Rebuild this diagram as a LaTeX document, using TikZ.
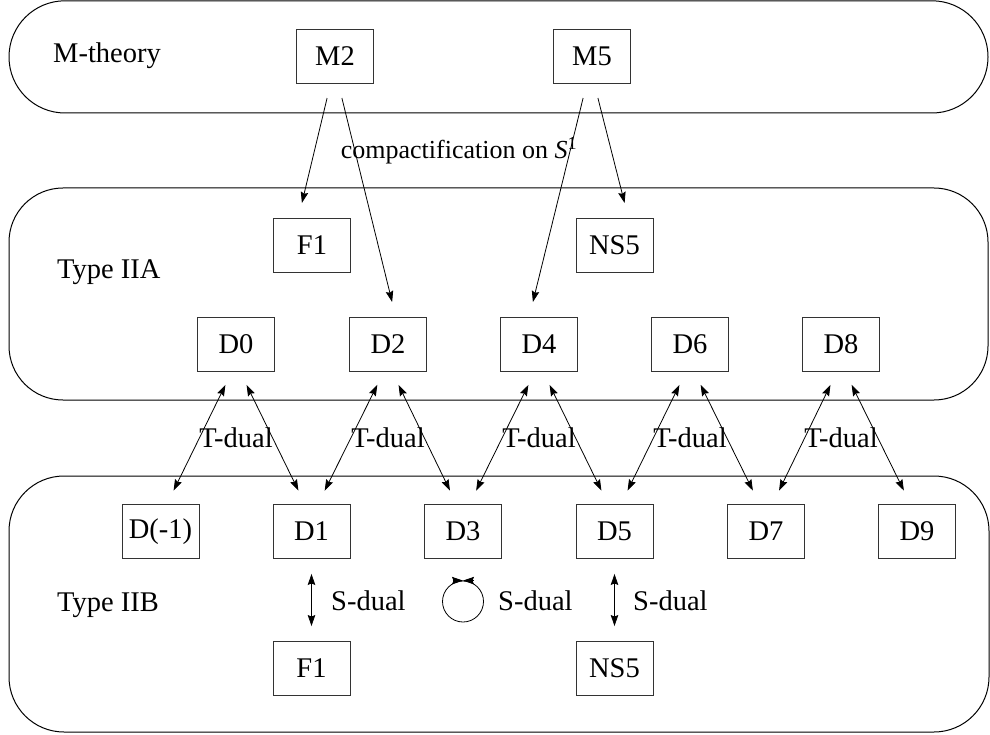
\documentclass[tikz,border=0pt]{standalone}
\usepackage{fontspec}
\setmainfont{Liberation Serif}
\usetikzlibrary{arrows.meta,calc}
\begin{document}
\begin{tikzpicture}[x=1pt,y=-1pt,
  every node/.style={font=\fontsize{28.5}{34}\selectfont},
  brane/.style={draw=black!80, line width=0.9pt, minimum width=77pt, minimum height=54pt, inner sep=0pt},
  panel/.style={draw, line width=1pt},
  tip/.tip={Stealth[length=11pt,width=7.5pt,inset=1.5pt]},
  arr/.style={-tip, line width=0.8pt, shorten <=15pt, shorten >=15pt},
  darr/.style={tip-tip, line width=0.8pt, shorten <=15pt, shorten >=15pt},
  lbl/.style={inner sep=0pt}]
\useasboundingbox (0,0) rectangle (990,735);

% panels
\draw[panel, rounded corners=56pt] (9,0.8) rectangle (988,113);
\draw[panel, rounded corners=54pt] (9,188) rectangle (988,400);
\draw[panel, rounded corners=55pt] (9,476) rectangle (989,732);

% panel labels
\node[lbl, anchor=base west] (lM) at (53,63) {M-theory};
\node[lbl, anchor=base west] (lA) at (57,279) {Type IIA};
\node[lbl, anchor=base west] (lB) at (57,611) {Type IIB};

% M-theory
\node[brane] (M2) at (335,56) {M2};
\node[brane] (M5) at (592,56) {M5};

% IIA
\node[brane] (F1a) at (312,245) {F1};
\node[brane] (NS5a) at (614.5,245) {NS5};
\node[brane] (D0) at (236,344) {D0};
\node[brane] (D2) at (388,344) {D2};
\node[brane] (D4) at (539,344) {D4};
\node[brane] (D6) at (690,344) {D6};
\node[brane] (D8) at (841,344) {D8};

% IIB
\node[brane] (Dm1) at (160.5,531.5) {D(-1)};
\node[brane] (D1) at (311.5,531.5) {D1};
\node[brane] (D3) at (463,531.5) {D3};
\node[brane] (D5) at (614.5,531.5) {D5};
\node[brane] (D7) at (766,531.5) {D7};
\node[brane] (D9) at (917,531.5) {D9};
\node[brane] (F1b) at (311.5,668.5) {F1};
\node[brane] (NS5b) at (614.5,668.5) {NS5};

% compactification
\node[lbl, anchor=base, font=\fontsize{26}{31}\selectfont] (comp) at (459,159) {compactification on \textit{S}\textsuperscript{1}};
\draw[arr] ($(M2.south)+(-4.4,0)$) -- ($(F1a.north)+(-13.6,0)$);
\draw[arr] ($(M2.south)+(3.3,0)$) -- ($(D2.north)+(7.7,0)$);
\draw[arr] ($(M5.south)+(-5.3,0)$) -- ($(D4.north)+(-9.7,0)$);
\draw[arr] ($(M5.south)+(2.2,0)$) -- ($(NS5a.north)+(13.8,0)$);

% T-duality
\foreach \a/\l/\r in {D0/Dm1/D1, D2/D1/D3, D4/D3/D5, D6/D5/D7, D8/D7/D9}{
  \draw[darr] ($(\a.south)+(-4,0)$) -- ($(\l.north)+(6.5,0)$);
  \draw[darr] ($(\a.south)+(4,0)$) -- ($(\r.north)+(-6.5,0)$);
  \node[lbl, anchor=base] at ($(\a.south)+(0,76)$) {T-dual};
}

% S-duality
\draw[darr] (D1) -- (F1b);
\node[lbl, anchor=base west] (s1) at (331,610) {S-dual};
\node[draw, circle, line width=0.8pt, minimum size=41pt, inner sep=0pt] (loop) at (463,601.5) {};
\draw[-tip, line width=0.8pt] ([xshift=-10.5pt]loop.north) -- (loop.north);
\draw[-tip, line width=0.8pt] ([xshift=10.5pt]loop.north) -- (loop.north);
\node[lbl, anchor=base west] (s2) at (498,610) {S-dual};
\draw[darr] (D5) -- (NS5b);
\node[lbl, anchor=base west] (s3) at (633,610) {S-dual};
\end{tikzpicture}
\end{document}
